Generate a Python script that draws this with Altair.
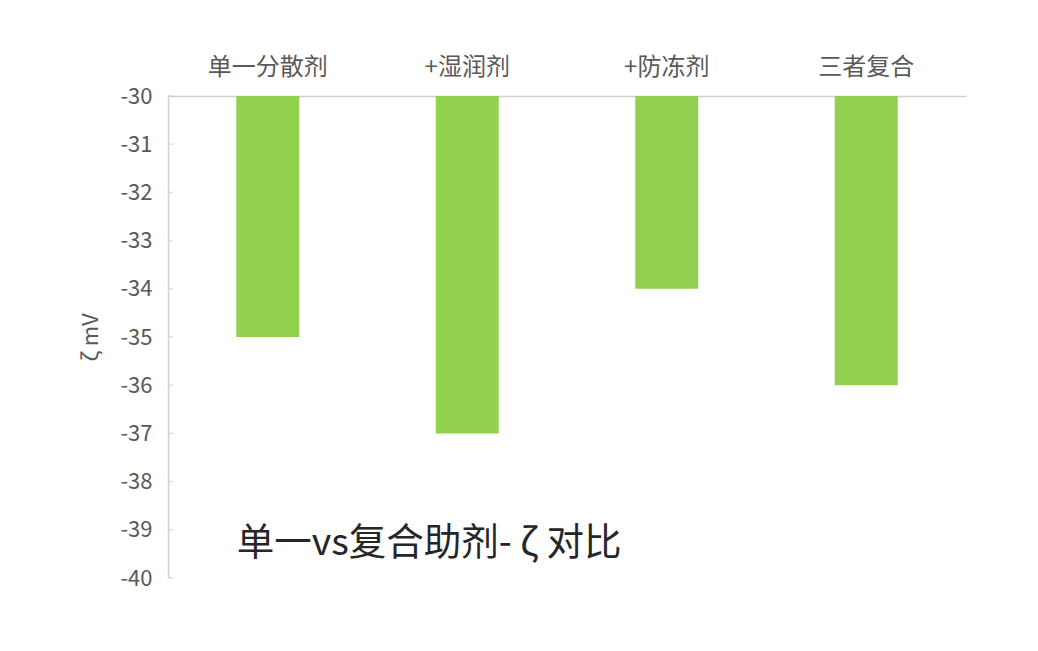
import altair as alt
import pandas as pd

categories = ["单一分散剂", "+湿润剂", "+防冻剂", "三者复合"]
zeta_values = [-35, -37, -34, -36]
y_ticks = [-30, -31, -32, -33, -34, -35, -36, -37, -38, -39, -40]
title_text = "单一vs复合助剂- ζ 对比"

df = pd.DataFrame({"cat": categories, "zeta": zeta_values})
FONT = "Noto Sans CJK SC"

x_axis = alt.Axis(orient="top", labelAngle=0, ticks=False,
                  labelFontSize=24, labelColor="#595959", labelFont=FONT,
                  labelPadding=17, domainColor="#d0d0d0", domainWidth=1.5)
y_axis = alt.Axis(values=y_ticks, ticks=False, grid=False,
                  labelExpr="'' + datum.value",
                  labelFontSize=22, labelColor="#595959", labelFont=FONT,
                  labelPadding=16, domainColor="#d0d0d0", domainWidth=1.5,
                  titleFontSize=22, titleColor="#595959", titleFont=FONT,
                  titleFontWeight="normal", titlePadding=17)
x_scale = alt.Scale(paddingInner=0.68, paddingOuter=0.34)
y_scale = alt.Scale(domain=[-40, -30], nice=False)

bars = alt.Chart(df).mark_bar(color="#92d050", size=63).encode(
    x=alt.X("cat:N", sort=categories, title=None, scale=x_scale, axis=x_axis),
    y=alt.Y("zeta:Q", title="ζ mV", scale=y_scale, axis=y_axis),
    y2=alt.Y2(datum=-30),
)

tick_df = pd.DataFrame({"t": y_ticks})
ticks = alt.Chart(tick_df).mark_tick(orient="horizontal", size=5, color="#d0d0d0", thickness=1.5).encode(
    y=alt.Y("t:Q", title="ζ mV", scale=y_scale, axis=y_axis),
    x=alt.value(2.5),
)

label_df = pd.DataFrame({"cat": [categories[0]], "y": [-39.3], "txt": [title_text]})
label = alt.Chart(label_df).mark_text(align="left", baseline="middle", fontSize=37.5,
                                      font=FONT, color="#262626", dx=-31).encode(
    x=alt.X("cat:N", sort=categories, title=None, scale=x_scale, axis=x_axis),
    y=alt.Y("y:Q", title="ζ mV", scale=y_scale, axis=y_axis),
    text="txt:N",
)

chart = alt.layer(bars, ticks, label).properties(
    width=798, height=482, background="white",
    padding={"left": 71, "top": 47, "right": 40, "bottom": 30},
).configure_view(strokeWidth=0)

chart.save("out.html", embed_options={"renderer": "svg", "actions": False})
